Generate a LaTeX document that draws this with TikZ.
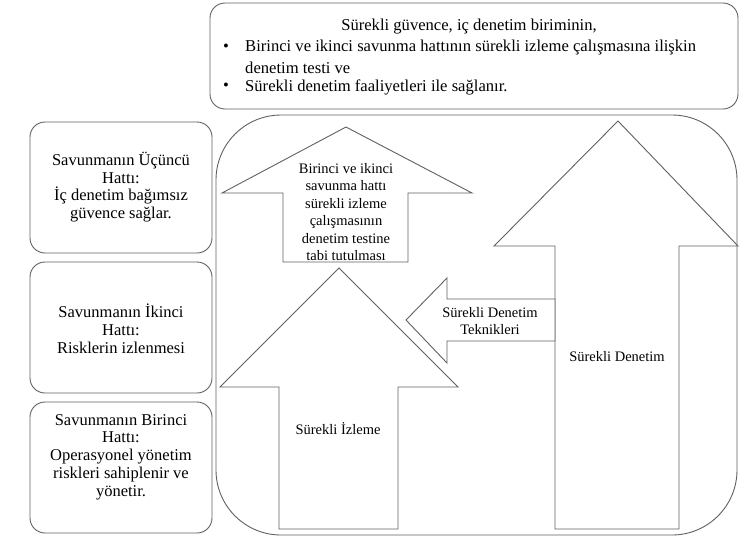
\documentclass[tikz,border=0pt]{standalone}
\usepackage{fontspec}
\setmainfont{Liberation Serif}
\begin{document}
\begin{tikzpicture}[x=1pt,y=-1pt,
  line/.style={draw=black!62,line width=0.9pt},
  panel/.style={line,rounded corners=15pt},
  arrowbody/.style={line,fill=white,line join=miter},
  sidetext/.style={align=center,font=\fontsize{16.5}{17.8}\selectfont,inner sep=0pt},
  arrowtext/.style={align=center,font=\fontsize{14.5}{17.5}\selectfont,inner sep=0pt},
  toptext/.style={font=\fontsize{16.6}{20}\selectfont,inner sep=0pt}]
\useasboundingbox (0,0) rectangle (741,542);
\fill[white] (0,0) rectangle (741,542);

% summary box at the top
\draw[panel] (210,3) rectangle (738,109);
\node[toptext] (head) at (469,27) {Sürekli güvence, iç denetim biriminin,};
\node[toptext] (bul1) at (226,48) {\textbullet};
\node[toptext,anchor=west] (item1) at (245,48) {Birinci ve ikinci savunma hattının sürekli izleme çalışmasına ilişkin};
\node[toptext,anchor=west] (item1b) at (245,68) {denetim testi ve};
\node[toptext] (bul2) at (226,87) {\textbullet};
\node[toptext,anchor=west] (item2) at (245,87) {Sürekli denetim faaliyetleri ile sağlanır.};

% three lines of defence
\draw[panel] (30,122) rectangle (212,253);
\node[sidetext] (third) at (121,187) {Savunmanın Üçüncü\\Hattı:\\İç denetim bağımsız\\güvence sağlar.};
\draw[panel] (30,262) rectangle (212,393);
\node[sidetext] (second) at (121,329) {Savunmanın İkinci\\Hattı:\\Risklerin izlenmesi};
\draw[panel] (30,402) rectangle (212,533);
\node[sidetext] (first) at (121,457) {Savunmanın Birinci\\Hattı:\\Operasyonel yönetim\\riskleri sahiplenir ve\\yönetir.};

% large frame holding the arrows
\draw[line,rounded corners=65pt] (216,115) rectangle (737,535);

% continuous audit (tall arrow)
\draw[arrowbody] (618,121) -- (738,246) -- (679,246) -- (679,529) -- (555,529)
  -- (555,246) -- (494,246) -- cycle;
\node[arrowtext] (audit) at (617,357) {Sürekli Denetim};

% continuous audit techniques (left-pointing arrow)
\draw[arrowbody] (406,320) -- (447,278) -- (447,299) -- (555,299) -- (555,341)
  -- (447,341) -- (447,363) -- cycle;
\node[arrowtext] (tech) at (490,321) {Sürekli Denetim\\Teknikleri};

% continuous monitoring
\draw[arrowbody] (339,268) -- (458,387) -- (398,387) -- (398,529) -- (279,529)
  -- (279,387) -- (220,387) -- cycle;
\node[arrowtext] (monitor) at (338,429) {Sürekli İzleme};

% audit testing of monitoring
\draw[arrowbody] (346,127) -- (472,193) -- (408,193) -- (408,262) -- (283,262)
  -- (283,193) -- (222,193) -- cycle;
\node[arrowtext] (testing) at (346,212) {Birinci ve ikinci\\savunma hattı\\sürekli izleme\\çalışmasının\\denetim testine\\tabi tutulması};
\end{tikzpicture}
\end{document}
